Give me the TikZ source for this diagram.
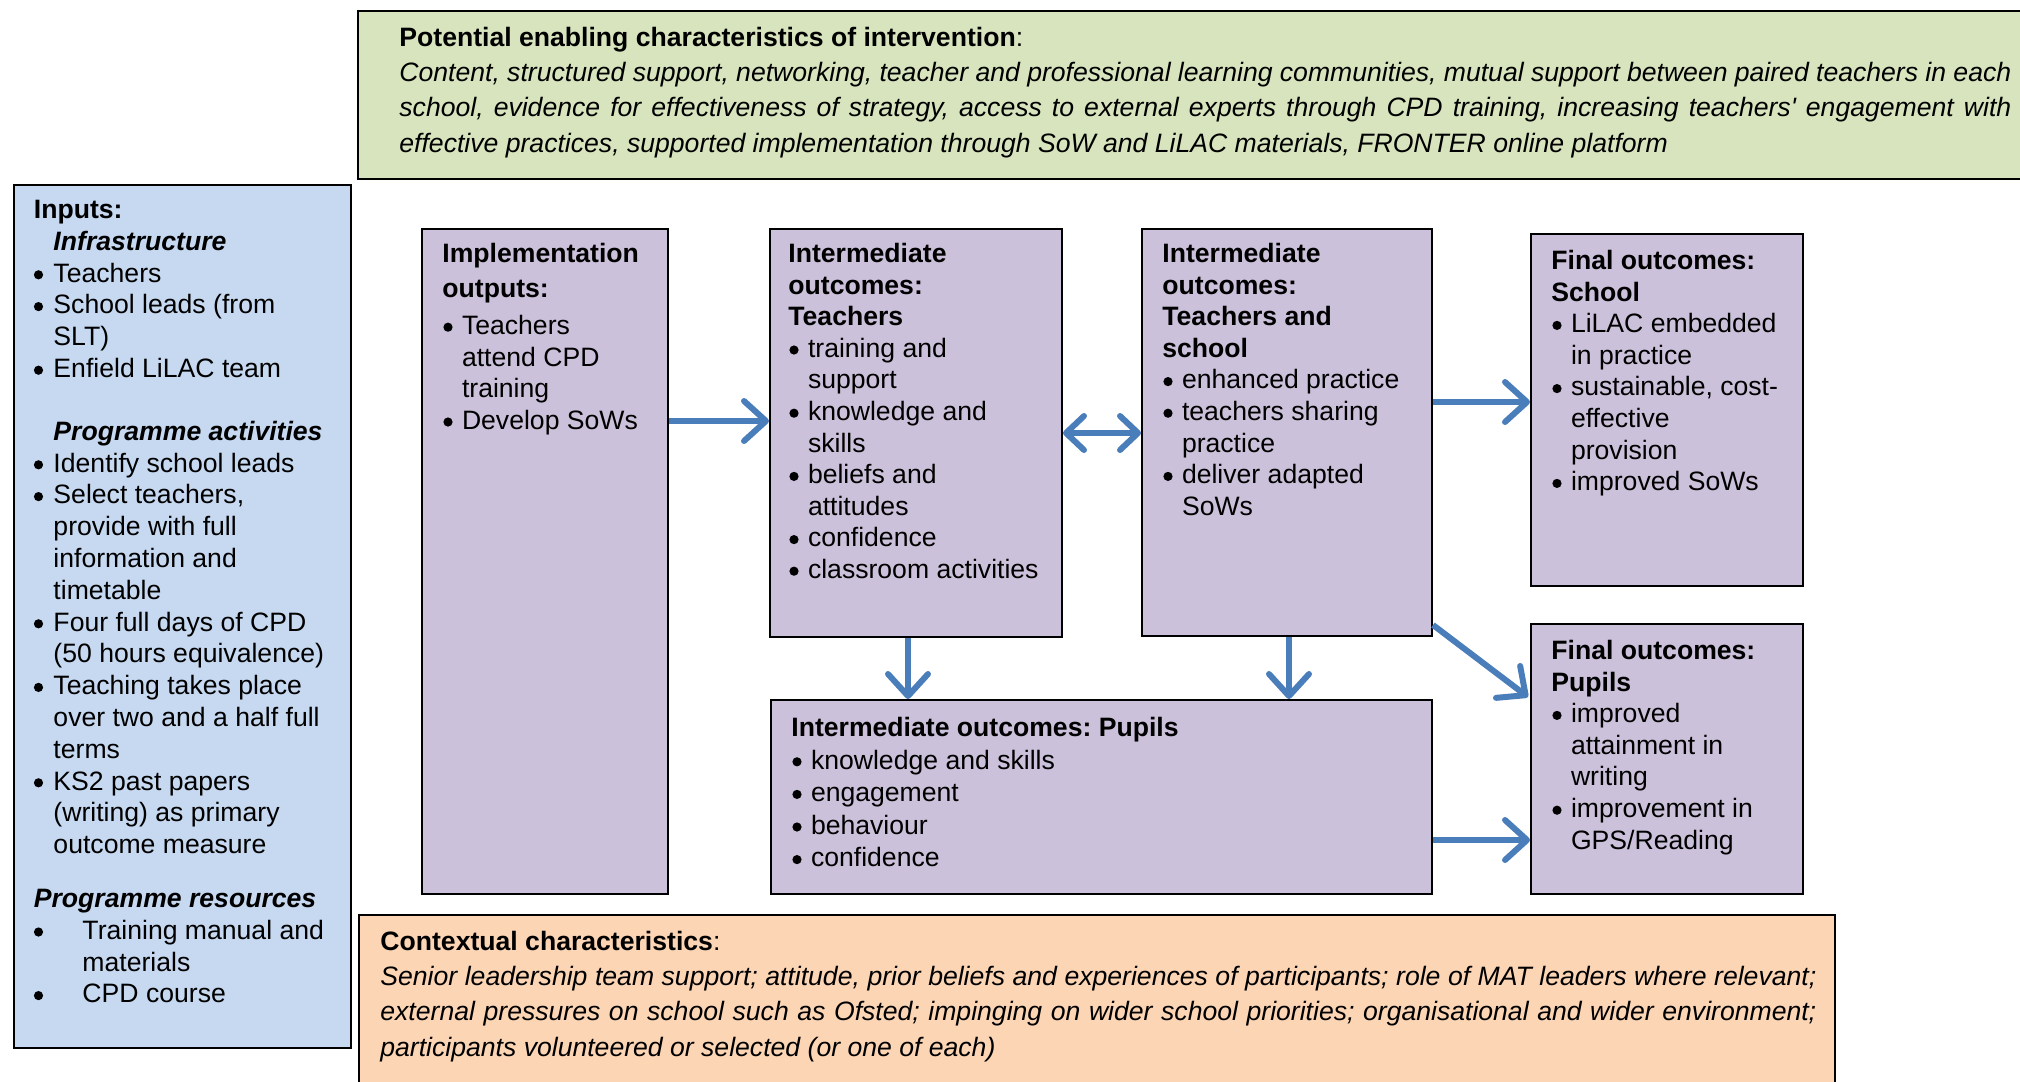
\documentclass[tikz,border=0pt]{standalone}
\usepackage{fontspec}
\setmainfont{Liberation Sans}
\usetikzlibrary{arrows.meta}
\definecolor{grnfill}{RGB}{215,228,189}
\definecolor{bluefill}{RGB}{198,217,241}
\definecolor{purpfill}{RGB}{204,193,218}
\definecolor{orgfill}{RGB}{252,213,181}
\definecolor{arrblue}{RGB}{74,126,187}
\frenchspacing
\newcommand\tstrut{\rule{0pt}{10pt}}
\newcommand\bdot{\tikz[baseline=0pt]\fill[black] (2.3pt,3.6pt) circle[radius=2.3pt];}
\newcommand\bl[1][0.5pt]{\makebox[9.8pt][l]{\hspace{#1}\bdot}}
\newcommand\ci{\hspace*{9.8pt}}
\begin{document}
\begin{tikzpicture}[x=0.5pt,y=-0.5pt,
  bigbox/.style={draw=black, line width=1.2pt, anchor=north west, inner sep=0pt},
  pbox/.style={draw=black, line width=1pt, fill=purpfill, anchor=north west, inner sep=0pt},
  txt/.style={anchor=north west, inner sep=0pt, align=left, font=\fontsize{13.3}{15.8}\selectfont},
  wtxt/.style={anchor=north west, inner sep=0pt, align=left, font=\fontsize{13.3}{17.6}\selectfont},
  flow/.style={draw=arrblue, line width=3pt, -{Straight Barb[length=11pt,width=20pt,round]}},
  flow2/.style={draw=arrblue, line width=3pt, {Straight Barb[length=9pt,width=17pt,round]}-{Straight Barb[length=9pt,width=17pt,round]}}
]
\useasboundingbox (0,0) rectangle (2020,1082);
% boxes
\node[bigbox, fill=grnfill, minimum width=836.5pt, minimum height=84pt] (green) at (357,10) {};
\node[bigbox, fill=bluefill, minimum width=168.5pt, minimum height=431.5pt] (inputs) at (13,184) {};
\node[bigbox, fill=orgfill, minimum width=738pt, minimum height=90pt] (orange) at (358,914) {};
\node[pbox, minimum width=123pt, minimum height=332.5pt] (impl) at (421,228) {};
\node[pbox, minimum width=146pt, minimum height=204pt] (intT) at (769,228) {};
\node[pbox, minimum width=145pt, minimum height=203.5pt] (intTS) at (1141,228) {};
\node[pbox, minimum width=136pt, minimum height=176pt] (finS) at (1530,233) {};
\node[pbox, minimum width=136pt, minimum height=135pt] (finP) at (1530,623) {};
\node[pbox, minimum width=330.5pt, minimum height=97pt] (intP) at (770,699) {};

% texts
\node[wtxt] (greentxt) at (399,26) {\tstrut\textbf{Potential enabling characteristics of intervention}:\\
\makebox[806pt][s]{\itshape Content, structured support, networking, teacher and professional learning communities, mutual support between paired teachers in each}\\
\makebox[806pt][s]{\itshape school, evidence for effectiveness of strategy, access to external experts through CPD training, increasing teachers\textquotesingle\ engagement with}\\
{\itshape effective practices, supported implementation through SoW and LiLAC materials, FRONTER online platform}};

\node[wtxt] (orangetxt) at (380,930) {\tstrut\textbf{Contextual characteristics}:\\
\makebox[718pt][s]{\itshape Senior leadership team support; attitude, prior beliefs and experiences of participants; role of MAT leaders where relevant;}\\
\makebox[718pt][s]{\itshape external pressures on school such as Ofsted; impinging on wider school priorities; organisational and wider environment;}\\
{\itshape participants volunteered or selected (or one of each)}};

\node[txt, font=\fontsize{13.3}{15.9}\selectfont] (inputstxt) at (33.5,198) {\tstrut\textbf{Inputs:}\\
\ci\textbf{\itshape Infrastructure}\\
\bl[0pt]Teachers\\
\bl[0pt]School leads (from\\
\ci SLT)\\
\bl[0pt]Enfield LiLAC team\\[15.5pt]
\ci\textbf{\itshape Programme activities}\\
\bl[0pt]Identify school leads\\
\bl[0pt]Select teachers,\\
\ci provide with full\\
\ci information and\\
\ci timetable\\
\bl[0pt]Four full days of CPD\\
\ci(50 hours equivalence)\\
\bl[0pt]Teaching takes place\\
\ci over two and a half full\\
\ci terms\\
\bl[0pt]KS2 past papers\\
\ci(writing) as primary\\
\ci outcome measure\\[11pt]
\textbf{\itshape Programme resources}\\
\makebox[24.3pt][l]{\hspace{0pt}\bdot}Training manual and\\
\hspace*{24.3pt}materials\\
\makebox[24.3pt][l]{\hspace{0pt}\bdot}CPD course};

\node[txt] (impltxt) at (442,242) {\tstrut\textbf{Implementation}\\[1.7pt]
\textbf{outputs:}\\[2.7pt]
\bl Teachers\\
\ci attend CPD\\
\ci training\\
\bl Develop SoWs};

\node[txt] (intTtxt) at (788,242) {\tstrut\textbf{Intermediate}\\
\textbf{outcomes:}\\
\textbf{Teachers}\\
\bl training and\\
\ci support\\
\bl knowledge and\\
\ci skills\\
\bl beliefs and\\
\ci attitudes\\
\bl confidence\\
\bl classroom activities};

\node[txt] (intTStxt) at (1162,242) {\tstrut\textbf{Intermediate}\\
\textbf{outcomes:}\\
\textbf{Teachers and}\\
\textbf{school}\\
\bl enhanced practice\\
\bl teachers sharing\\
\ci practice\\
\bl deliver adapted\\
\ci SoWs};

\node[txt] (finStxt) at (1551,249) {\tstrut\textbf{Final outcomes:}\\
\textbf{School}\\
\bl LiLAC embedded\\
\ci in practice\\
\bl sustainable, cost-\\
\ci effective\\
\ci provision\\
\bl improved SoWs};

\node[txt] (finPtxt) at (1551,639) {\tstrut\textbf{Final outcomes:}\\
\textbf{Pupils}\\
\bl improved\\
\ci attainment in\\
\ci writing\\
\bl improvement in\\
\ci GPS/Reading};

\node[txt, font=\fontsize{13.3}{16.3}\selectfont] (intPtxt) at (791,716) {\tstrut\textbf{Intermediate outcomes: Pupils}\\
\bl knowledge and skills\\
\bl engagement\\
\bl behaviour\\
\bl confidence};

% connectors
\path (impl.north east) ++(0,193) coordinate (a1s);
\draw[flow] (a1s) -- (a1s -| intT.west);
\path (intT.north east) ++(0,205) coordinate (a2s);
\draw[flow2] (a2s) -- (a2s -| intTS.west);
\path (intTS.north east) ++(0,174) coordinate (a3s);
\draw[flow] (a3s) -- (a3s -| finS.west);
\path (intTS.south east) ++(0,-12) coordinate (a4s);
\path (finP.north west) ++(-2,74) coordinate (a4e);
\draw[flow] (a4s) -- (a4e);
\path (intT.south west) ++(139,0) coordinate (a5s);
\draw[flow] (a5s) -- (a5s |- intP.north);
\path (intTS.south west) ++(148,0) coordinate (a6s);
\draw[flow] (a6s) -- (a6s |- intP.north);
\path (intP.north east) ++(0,141) coordinate (a7s);
\draw[flow] (a7s) -- (a7s -| finP.west);
\end{tikzpicture}
\end{document}
